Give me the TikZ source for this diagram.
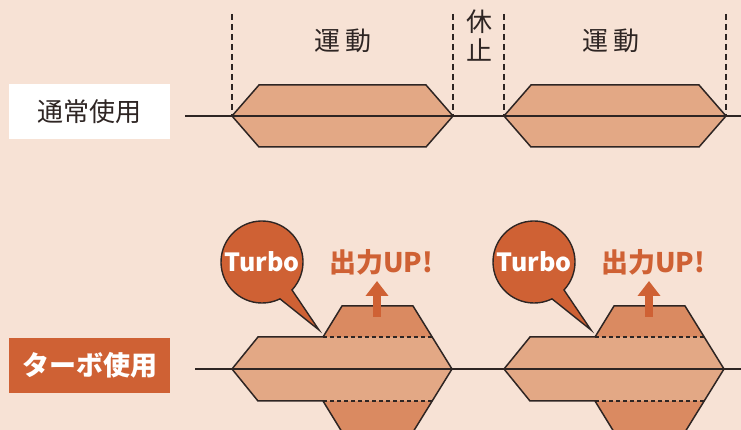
\documentclass[tikz,border=0pt]{standalone}
\usepackage{fontspec}
\setmainfont{Noto Sans CJK JP}
\usetikzlibrary{arrows.meta}
\definecolor{bg}{HTML}{F7E2D5}
\definecolor{light}{HTML}{E3A885}
\definecolor{dark}{HTML}{DA8A61}
\definecolor{turbo}{HTML}{CF6134}
\definecolor{ink}{HTML}{2E2523}

\begin{document}
\begin{tikzpicture}[x=1pt,y=1pt,
every node/.style={inner sep=0pt, text=ink, font=\fontsize{26}{29}\selectfont},
tag/.style={minimum width=161pt, minimum height=55pt},
heavy/.style={font=\bfseries\fontsize{27}{27}\selectfont},
timeline/.style={draw=ink, line width=2.6pt},
edge/.style={draw=ink, line width=1.5pt},
divider/.style={draw=ink, line width=1.2pt, dash pattern=on 6pt off 4pt},
seam/.style={draw=ink, line width=1.2pt, dash pattern=on 4pt off 3pt},
bubble/.style={fill=turbo, draw=ink, line width=1.4pt},
rise/.style={draw=turbo, line width=8pt, -{Triangle[width=22pt,length=15pt]}}
]
  \clip (0,0) rectangle (741,430);
  \fill[bg] (0,0) rectangle (741,430);

  % normal use
  \foreach \a/\b in {232/453, 504/726} {
    \draw[divider] (\a,416) -- (\a,314) (\b,416) -- (\b,314);
    \filldraw[fill=light, edge] (\a,314) -- (\a+27,345) -- (\b-27,345) -- (\b,314)
      -- (\b-27,283) -- (\a+27,283) -- cycle;
  }
  \node (normal) [tag, fill=white] at (89.5,318) {通常使用};
  \node (runA) at (343,389) {運 動};
  \node (runB) at (611,389) {運 動};
  \node (rest) [align=center] at (479,394) {休\\止};
  \coordinate (lineA) at (185,314);
  \coordinate (lineAend) at (741,314);
  \draw[timeline] (lineA) -- (lineAend);

  % turbo use
  \foreach \s/\n in {0/A, 272/B} {
    \begin{scope}[xshift=\s pt]
      \fill[dark] (232,61) -- (258,93) -- (323,93) -- (342,124) -- (413,124) -- (452,61)
        -- (413,-2) -- (342,-2) -- (323,29) -- (258,29) -- cycle;
      \fill[light] (232,61) -- (258,93) -- (432,93) -- (452,61) -- (432,29) -- (258,29) -- cycle;
      \draw[seam] (323,93) -- (432,93) (323,29) -- (432,29);
      \draw[edge] (232,61) -- (258,93) -- (323,93) -- (342,124) -- (413,124) -- (452,61)
        -- (413,-2) -- (342,-2) -- (323,29) -- (258,29) -- cycle;
      \filldraw[bubble] (262,168) ++(-43:41pt) arc[start angle=-43, end angle=296, radius=41pt]
        -- (319,100) -- cycle;
      \node (boost\n) [font=\bfseries\fontsize{25}{25}\selectfont, text=white] at (262,168) {Turbo};
      \node (up\n) [heavy, text=turbo] at (381,168) {出力UP!};
      \coordinate (rise\n) at (377,113);
      \coordinate (riseTop\n) at (377,149);
      \draw[rise] (rise\n) -- (riseTop\n);
    \end{scope}
  }
  \node (turboUse) [tag, heavy, fill=turbo, text=white] at (89.5,64.5) {ターボ使用};
  \coordinate (lineB) at (195,61);
  \coordinate (lineBend) at (741,61);
  \draw[timeline] (lineB) -- (lineBend);
\end{tikzpicture}
\end{document}
